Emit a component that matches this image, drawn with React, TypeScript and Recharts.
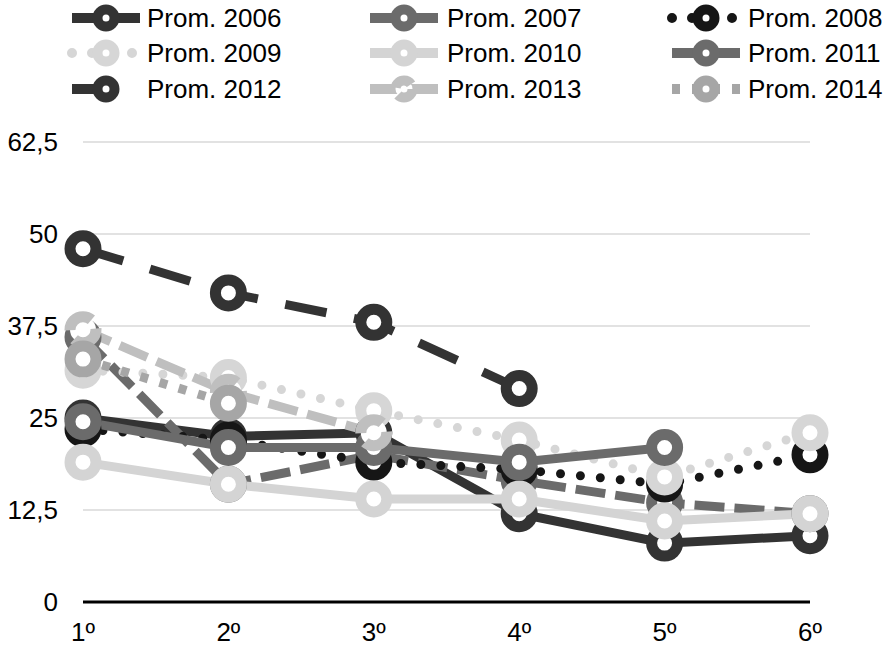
import React from 'react';
import { LineChart, Line, XAxis, YAxis, CartesianGrid, Legend } from 'recharts';

const categories = ['1º', '2º', '3º', '4º', '5º', '6º'];
const prom2006 = [25, 22.5, 23, 12, 8, 9];
const prom2007 = [36, 16, 20, 16.5, 13.5, 12];
const prom2008 = [23.5, 22, 19, 18, 16, 20];
const prom2009 = [31.5, 30.5, 26, 22, 17, 23];
const prom2010 = [19, 16, 14, 14, 11, 12];
const prom2011 = [24.5, 21, 21, 19, 21];
const prom2012 = [48, 42, 38, 29];
const prom2013 = [37, 28.5, 23];
const prom2014 = [33, 27];
const yTicks = [0, 12.5, 25, 37.5, 50, 62.5];

const seriesValues: Record<string, number[]> = {
  'Prom. 2006': prom2006,
  'Prom. 2007': prom2007,
  'Prom. 2008': prom2008,
  'Prom. 2009': prom2009,
  'Prom. 2010': prom2010,
  'Prom. 2011': prom2011,
  'Prom. 2012': prom2012,
  'Prom. 2013': prom2013,
  'Prom. 2014': prom2014,
};

type Style = { name: string; color: string; dash?: string; round?: boolean; dashedMarker?: boolean };
const styles: Style[] = [
  { name: 'Prom. 2006', color: '#333333' },
  { name: 'Prom. 2007', color: '#6b6b6b', dash: '30 10' },
  { name: 'Prom. 2008', color: '#161616', dash: '0 20', round: true },
  { name: 'Prom. 2009', color: '#d6d6d6', dash: '0 20', round: true },
  { name: 'Prom. 2010', color: '#d4d4d4' },
  { name: 'Prom. 2011', color: '#6b6b6b' },
  { name: 'Prom. 2012', color: '#333333', dash: '42 28' },
  { name: 'Prom. 2013', color: '#bfbfbf', dash: '30 10', dashedMarker: true },
  { name: 'Prom. 2014', color: '#a6a6a6', dash: '8 12' },
];

const data = categories.map((c, i) => {
  const row: Record<string, any> = { cat: c };
  Object.keys(seriesValues).forEach((k) => {
    const v = seriesValues[k][i];
    row[k] = v === undefined ? null : v;
  });
  return row;
});

const FONT = '"Liberation Sans", Arial, sans-serif';

const YTick = (props: any) => {
  const { y, payload } = props;
  return (
    <text x={58} y={y} dy={9} textAnchor="end" fontSize={26} fontFamily={FONT} fill="#000">
      {String(payload.value).replace('.', ',')}
    </text>
  );
};

const XTick = (props: any) => {
  const { x, payload } = props;
  return (
    <text x={x} y={641} textAnchor="middle" fontSize={26} fontFamily={FONT} fill="#000">
      {payload.value}
    </text>
  );
};

const makeDot = (s: Style) => (p: any) => {
  const { cx, cy, value, index } = p;
  if (value === null || value === undefined || cx == null || cy == null) return <g key={`d-${s.name}-${index}`} />;
  return (
    <circle
      key={`d-${s.name}-${index}`}
      cx={cx}
      cy={cy}
      r={13}
      fill="#fff"
      stroke={s.color}
      strokeWidth={11}
      strokeDasharray={s.dashedMarker ? s.dash : 'none'}
    />
  );
};

const colIcon = [72, 370, 672];
const colText = [147, 447, 748];
const rowY = [18, 53, 89];

const LegendContent = () => (
  <svg width={887} height={110} style={{ display: 'block' }}>
    {styles.map((s, i) => {
      const col = i % 3;
      const row = Math.floor(i / 3);
      const x0 = colIcon[col];
      const y = rowY[row];
      return (
        <g key={s.name}>
          <line
            x1={x0}
            y1={y}
            x2={x0 + 68}
            y2={y}
            stroke={s.color}
            strokeWidth={10}
            strokeDasharray={s.dash}
            strokeLinecap={s.round ? 'round' : 'butt'}
          />
          <circle
            cx={x0 + 34}
            cy={y}
            r={8.5}
            fill="#fff"
            stroke={s.color}
            strokeWidth={10}
            strokeDasharray={s.dashedMarker ? '20 8' : 'none'}
          />
          <text x={colText[col]} y={y + 9} fontSize={26} fontFamily={FONT} fill="#000">
            {s.name}
          </text>
        </g>
      );
    })}
  </svg>
);

export default function App() {
  return (
    <div style={{ position: 'absolute', left: 0, top: 0, width: 887, height: 647, background: '#fff' }}>
      <LineChart width={887} height={647} data={data} margin={{ top: 142, right: 77, bottom: 0, left: 0 }}>
        <CartesianGrid vertical={false} stroke="#d9d9d9" strokeWidth={1.3} />
        <XAxis
          dataKey="cat"
          height={45}
          axisLine={{ stroke: '#000', strokeWidth: 3 }}
          tickLine={false}
          tick={<XTick />}
          interval={0}
        />
        <YAxis
          width={83}
          domain={[0, 62.5]}
          ticks={yTicks}
          axisLine={false}
          tickLine={false}
          tick={<YTick />}
          interval={0}
        />
        <Legend
          layout="vertical"
          verticalAlign="middle"
          align="center"
          wrapperStyle={{ position: 'absolute', top: 0, left: 0, width: 887, height: 110 }}
          content={() => <LegendContent />}
        />
        {styles.map((s) => (
          <Line
            key={s.name}
            dataKey={s.name}
            type="linear"
            stroke={s.color}
            strokeWidth={9}
            strokeDasharray={s.dash}
            strokeLinecap={s.round ? 'round' : 'butt'}
            dot={makeDot(s)}
            activeDot={false}
            isAnimationActive={false}
            connectNulls={false}
          />
        ))}
      </LineChart>
    </div>
  );
}
